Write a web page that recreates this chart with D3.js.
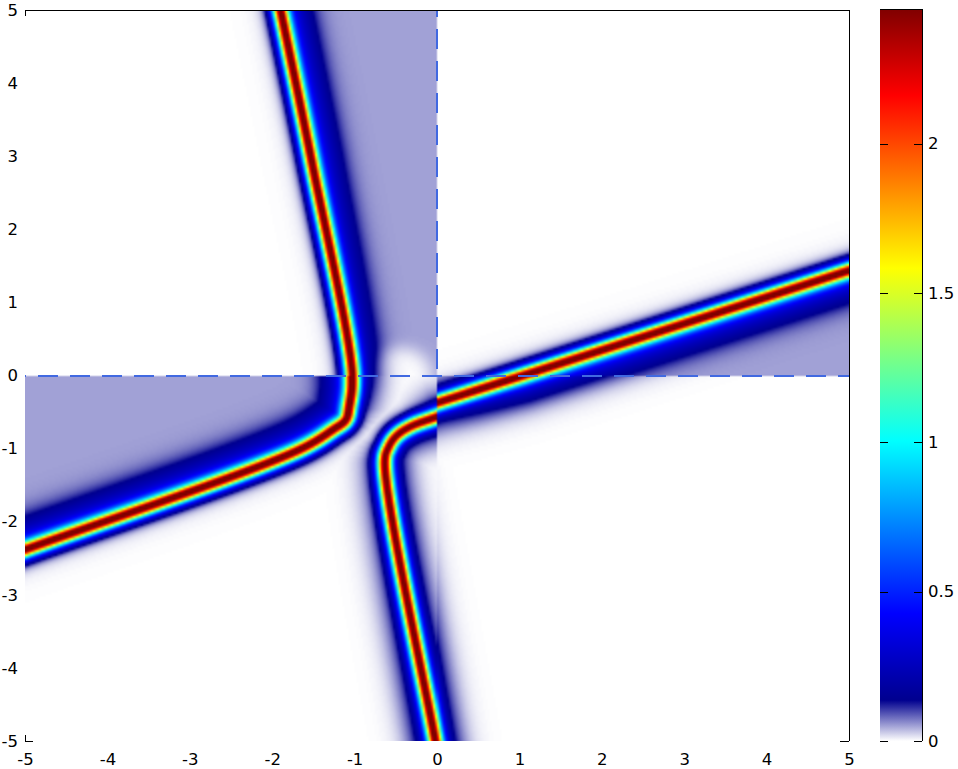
<!DOCTYPE html>
<html>
<head>
<meta charset="utf-8">
<title>Line soliton field</title>
<style>
  body { margin: 0; background: #fff; }
  svg { display: block; }
  .frame { stroke: #000; stroke-width: 1; fill: none; shape-rendering: crispEdges; }
  .zero { stroke: #4169e1; stroke-width: 2; stroke-dasharray: 20 12; fill: none; shape-rendering: crispEdges; }
</style>
</head>
<body>
<svg width="958" height="769"></svg>
<script src="https://cdn.jsdelivr.net/npm/d3@7"></script>
<script>
// ---------- values ----------
var xTicks = [-5, -4, -3, -2, -1, 0, 1, 2, 3, 4, 5];
var yTicks = [-5, -4, -3, -2, -1, 0, 1, 2, 3, 4, 5];
var cbTicks = [0, 0.5, 1, 1.5, 2];
var cbMax = 2.45;

// colour map: white -> navy, then jet up to the max
var cmapValues = [0, 0.137, 0.426, 1.004, 1.583, 2.161, 2.45];
var cmapColors = ["#ffffff", "#00008f", "#0000ff", "#00ffff", "#ffff00", "#ff0000", "#800000"];

// ridge A: steep branch from the top, bending into the shallow branch to the left
var ridgeAX = [-2.0, -1.905, -1.53, -1.03, -1.06, -1.10, -1.25, -1.663, -5.0, -6.0];
var ridgeAY = [5.5, 5.0, 2.95, 0.0, -0.42, -0.61, -0.74, -1.019, -2.39, -2.8];
var ridgeAShL = [1, 1, 1, 0.6, 0.3, 0, 0, 0, 0, 0];
var ridgeAShR = [1, 1, 1, 1, 1, 1, 1, 1, 1, 1];

// ridge B: shallow branch on the right (upper right / lower right quadrants)
var ridgeBX = [6.0, 5.0, 1.025, 0.0, -0.6];
var ridgeBY = [1.806, 1.443, 0.0, -0.372, -0.59];
var ridgeBShL = [1, 1, 1, 0.5, 0.5];
var ridgeBShR = [0.3, 0.3, 0.3, 0.3, 0.3];

// ridge C: same branch as seen in the lower left quadrant, bending down to the bottom
var ridgeCX = [0.5, 0.0, -0.33, -0.50, -0.59, -0.635, -0.02, 0.06];
var ridgeCY = [-0.354, -0.563, -0.70, -0.83, -0.98, -1.17, -5.0, -5.5];
var ridgeCShL = [0.4, 0.4, 0.4, 0.4, 0.4, 0.4, 0.5, 0.5];
var ridgeCShR = [0.3, 0.3, 0, 0, 0, 0.2, 0.5, 0.5];

// steep lower branch as it reaches into the lower right quadrant
var ridgeSX = [-0.894, -0.635, -0.02, 0.06];
var ridgeSY = [0.5, -1.17, -5.0, -5.5];
var ridgeSShL = [0.5, 0.5, 0.5, 0.5];
var ridgeSShR = [0.5, 0.5, 0.5, 0.5];

var lavender = 0.05;     // background level on one side of the ridges

// ---------- layout ----------
var svg = d3.select("svg");
var pLeft = 25, pRight = 849, pTop = 10, pBottom = 741;
var W = pRight - pLeft, H = pBottom - pTop;
var fontFamily = '"DejaVu Sans", "Liberation Sans", Arial, sans-serif';

var x = d3.scaleLinear().domain([-5, 5]).range([pLeft, pRight]);
var y = d3.scaleLinear().domain([-5, 5]).range([pBottom, pTop]);
var cb = d3.scaleLinear().domain([0, cbMax]).range([741, 9.07]);

var cmap = d3.scaleLinear().domain(cmapValues).range(cmapColors).clamp(true);
var lutN = 2048;
var lut = d3.range(lutN).map(function(i) { return d3.rgb(cmap(i / (lutN - 1) * cbMax)); });

// profile shape (pixels)
var coreW = 6.8, shoulderLevel = 0.27, shoulderMid = 26, shoulderSpread = 7,
    tailLevel = 0.08, tailW = 10;

function nearest(pts, px, py) {
  var best = Infinity, side = 1, wl = 0, wr = 0;
  for (var i = 0; i < pts.length - 1; i++) {
    var a = pts[i], b = pts[i + 1];
    var dx = b[0] - a[0], dy = b[1] - a[1], L2 = dx * dx + dy * dy;
    var t = ((px - a[0]) * dx + (py - a[1]) * dy) / L2;
    t = t < 0 ? 0 : (t > 1 ? 1 : t);
    var cx = a[0] + t * dx - px, cy = a[1] + t * dy - py;
    var d2 = cx * cx + cy * cy;
    if (d2 < best) {
      best = d2;
      side = (dx * (py - a[1]) - dy * (px - a[0])) >= 0 ? 1 : -1;
      wl = a[2] * (1 - t) + b[2] * t;
      wr = a[3] * (1 - t) + b[3] * t;
    }
  }
  return {d: Math.sqrt(best) * side, wl: wl, wr: wr};
}

// smooth each ridge with a Catmull-Rom curve and resample it densely
var ridgeLine = d3.line().curve(d3.curveCatmullRom.alpha(0.5));
function ridge(xs, ys, shl, shr) {
  var raw = xs.map(function(v, i) { return [x(v), y(ys[i])]; });
  var rawUp = raw.map(function(p, i) { return [p[0], -p[1], shl[i], shr[i]]; });
  var path = svg.append("path").attr("d", ridgeLine(raw)).attr("fill", "none");
  var node = path.node(), len = node.getTotalLength(), pts = [];
  for (var s = 0; s < len; s += 3) {
    var p = node.getPointAtLength(s);
    pts.push([p.x, p.y]);
  }
  var pe = node.getPointAtLength(len);
  pts.push([pe.x, pe.y]);
  path.remove();
  return pts.map(function(p) {
    var r = nearest(rawUp, p[0], -p[1]);
    return [p[0], -p[1], r.wl, r.wr];
  });
}
var rA = ridge(ridgeAX, ridgeAY, ridgeAShL, ridgeAShR),
    rB = ridge(ridgeBX, ridgeBY, ridgeBShL, ridgeBShR),
    rC = ridge(ridgeCX, ridgeCY, ridgeCShL, ridgeCShR),
    rS = ridge(ridgeSX, ridgeSY, ridgeSShL, ridgeSShR);

// value across a ridge; bgSide = +1 lavender on the left, -1 on the right, 0 none
function profile(r, bgSide, bgMul, mulL, mulR) {
  var a = Math.abs(r.d);
  var ch = Math.cosh(a / coreW);
  var v = cbMax / (ch * ch) + tailLevel * Math.exp(-a / tailW);
  var w = r.d >= 0 ? r.wl * mulL : r.wr * mulR;
  v += shoulderLevel * w / (1 + Math.exp((a - shoulderMid) / shoulderSpread));
  if (bgSide !== 0) v += bgMul * lavender / (1 + Math.exp(-(bgSide * r.d - 4) / 3));
  return v;
}

// ---------- field image (computed on a 2 px grid) ----------
var step = 2;
var GW = Math.ceil(W / step), GH = Math.ceil(H / step);
var canvas = document.createElement("canvas");
canvas.width = GW; canvas.height = GH;
var ctx = canvas.getContext("2d");
var img = ctx.createImageData(GW, GH);

for (var j = 0; j < GH; j++) {
  var sy = pTop + (j + 0.5) * step, dyv = y.invert(sy);
  for (var i = 0; i < GW; i++) {
    var sx = pLeft + (i + 0.5) * step, dxv = x.invert(sx);
    var px = sx, py = -sy, v;
    if (dyv >= 0 && dxv < 0) {
      var rr = (dxv + 0.45) * (dxv + 0.45) + dyv * dyv;
      var fade = 1 - Math.exp(-Math.pow(rr / 0.16, 2));
      v = profile(nearest(rA, px, py), 1, fade, 1, 0);
    } else if (dyv >= 0) {
      v = profile(nearest(rB, px, py), 1, 1, 1, 0);
    } else if (dxv < 0) {
      v = Math.max(profile(nearest(rA, px, py), -1, 1, 1, 1),
                   profile(nearest(rC, px, py), 0, 0, 1, 1));
    } else {
      v = Math.max(profile(nearest(rB, px, py), 0, 0, 1, 1),
                   profile(nearest(rS, px, py), 0, 0, 1, 1));
    }
    var k = Math.max(0, Math.min(lutN - 1, Math.round(v / cbMax * (lutN - 1))));
    var c = lut[k], o = (j * GW + i) * 4;
    img.data[o] = c.r; img.data[o + 1] = c.g; img.data[o + 2] = c.b; img.data[o + 3] = 255;
  }
}
ctx.putImageData(img, 0, 0);

svg.append("image")
    .attr("x", pLeft).attr("y", pTop)
    .attr("width", GW * step).attr("height", GH * step)
    .attr("preserveAspectRatio", "none")
    .attr("href", canvas.toDataURL());

// white strip to trim the half cell overhang at the bottom
svg.append("rect").attr("x", pLeft).attr("y", pBottom)
    .attr("width", W + 2).attr("height", GH * step - H + 1).attr("fill", "#fff");

// zero lines
svg.append("line").attr("class", "zero")
    .attr("x1", pLeft).attr("x2", pRight).attr("y1", y(0)).attr("y2", y(0))
    .style("stroke-dashoffset", 19);
svg.append("line").attr("class", "zero")
    .attr("x1", x(0)).attr("x2", x(0)).attr("y1", pTop).attr("y2", y(0))
    .style("stroke-dashoffset", 13);

// frame (top and right) with the corner ticks
svg.append("path").attr("class", "frame")
    .attr("d", "M" + pLeft + "," + pTop + "H" + pRight + "V" + pBottom +
               "M" + pLeft + "," + pTop + "v6" +
               "M" + pLeft + "," + (pBottom - 6) + "V" + pBottom + "h8" +
               "M" + (pRight - 9) + "," + pBottom + "H" + pRight);

function styleAxis(g) {
  g.select(".domain").remove();
  g.selectAll("text")
      .style("font-size", "16.5px")
      .style("font-family", fontFamily)
      .attr("fill", "#000");
}

// axes
svg.append("g")
    .attr("transform", "translate(0," + pBottom + ")")
    .call(d3.axisBottom(x).tickValues(xTicks).tickSize(0).tickPadding(12)
      .tickFormat(function(d) { return String(d); }))
    .call(styleAxis);

svg.append("g")
    .attr("transform", "translate(" + pLeft + ",0)")
    .call(d3.axisLeft(y).tickValues(yTicks).tickSize(0).tickPadding(7)
      .tickFormat(function(d) { return String(d); }))
    .call(styleAxis);

// colour bar
var cbX = 880, cbW = 42;
var grad = svg.append("defs").append("linearGradient")
    .attr("id", "cbgrad").attr("x1", 0).attr("y1", 1).attr("x2", 0).attr("y2", 0);
grad.selectAll("stop").data(cmapValues).enter().append("stop")
    .attr("offset", function(d) { return d / cbMax; })
    .attr("stop-color", function(d, i) { return cmapColors[i]; });

svg.append("rect")
    .attr("x", cbX).attr("y", cb(cbMax))
    .attr("width", cbW).attr("height", cb(0) - cb(cbMax))
    .attr("fill", "url(#cbgrad)");

svg.append("path").attr("class", "frame")
    .attr("d", "M" + cbX + "," + Math.round(cb(cbMax)) + "H" + (cbX + cbW) + "V" + cb(0));

svg.append("g").selectAll("path").data(cbTicks).enter().append("path")
    .attr("class", "frame")
    .attr("d", function(d) {
      var ty = Math.round(cb(d));
      return "M" + cbX + "," + ty + "h8M" + (cbX + cbW - 8) + "," + ty + "h8";
    });

svg.append("g")
    .attr("transform", "translate(" + (cbX + cbW) + ",0)")
    .call(d3.axisRight(cb).tickValues(cbTicks).tickSize(0).tickPadding(6)
      .tickFormat(function(d) { return String(d); }))
    .call(styleAxis);
</script>
</body>
</html>
